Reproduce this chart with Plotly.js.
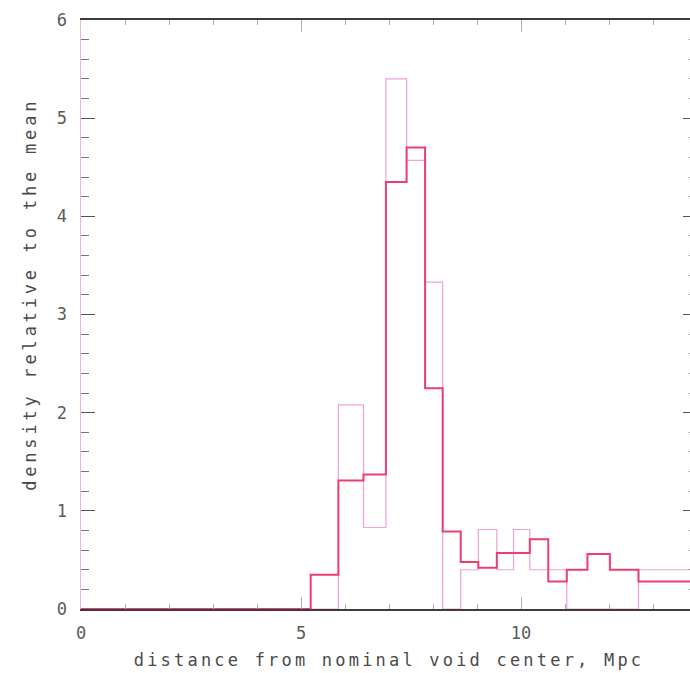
<!DOCTYPE html>
<html>
<head>
<meta charset="utf-8">
<script src="https://cdn.plot.ly/plotly-3.0.1.min.js"></script>
<style>
  html, body { margin: 0; padding: 0; overflow: hidden; background: #fff; }
  #chart { width: 707px; height: 673px; }
  .xtitle { letter-spacing: 3.2px; }
  .annotation-text { letter-spacing: 3.8px; }
</style>
</head>
<body>
<div id="chart"></div>
<script>
// Bin left edges (Mpc) of the step histograms
const binEdges = [0, 5.22, 5.85, 6.42, 6.93, 7.40, 7.82, 8.22, 8.63, 9.03, 9.45, 9.83, 10.20, 10.62, 11.04, 11.51, 12.02, 12.67];
const axisEnd = 14;
// Thick red histogram: density relative to the mean in each bin
const redValues = [0, 0.35, 1.31, 1.37, 4.35, 4.70, 2.25, 0.79, 0.48, 0.42, 0.57, 0.57, 0.71, 0.28, 0.40, 0.56, 0.40, 0.28];
// Thin pink histogram
const pinkValues = [0, 0, 2.08, 0.83, 5.40, 4.57, 3.33, 0, 0.40, 0.81, 0.40, 0.81, 0.40, 0.40, 0, 0, 0, 0.40];
const xTickVals = [0, 5, 10];
const yTickVals = [0, 1, 2, 3, 4, 5, 6];
const xTitle = 'distance from nominal void center, Mpc';
const yTitle = 'density relative to the mean';

function stepX(edges) { return edges.concat([axisEnd]); }
function stepY(vals) { return vals.concat([vals[vals.length - 1]]); }

const font = 'DejaVu Sans Mono, monospace';

const traces = [
  {
    x: stepX(binEdges), y: stepY(pinkValues),
    type: 'scatter', mode: 'lines',
    line: { shape: 'hv', color: '#f0a0d6', width: 1.2 },
    hoverinfo: 'skip', showlegend: false
  },
  {
    x: stepX(binEdges), y: stepY(redValues),
    type: 'scatter', mode: 'lines',
    line: { shape: 'hv', color: '#ec3f6e', width: 2 },
    hoverinfo: 'skip', showlegend: false
  }
];

const layout = {
  width: 707, height: 673,
  margin: { l: 81, r: 10, t: 20, b: 64 },
  paper_bgcolor: '#ffffff', plot_bgcolor: '#ffffff',
  showlegend: false,
  xaxis: {
    range: [0, axisEnd], autorange: false,
    tickmode: 'array', tickvals: xTickVals, ticktext: xTickVals.map(String),
    ticks: 'inside', ticklen: 12, tickwidth: 1, tickcolor: '#c8a0c4',
    minor: { dtick: 1, tick0: 0, ticks: 'inside', ticklen: 5, tickcolor: '#c8a0c4', tickwidth: 1, showgrid: false },
    showline: true, linecolor: '#3c3c3c', linewidth: 2, mirror: 'ticks',
    showgrid: false, zeroline: false,
    tickfont: { family: font, size: 17, color: '#5a5a5a' },
    ticklabelstandoff: 8,
    title: { text: xTitle, font: { family: font, size: 17, color: '#4a4a4a' }, standoff: 12 }
  },
  yaxis: {
    range: [0, 6], autorange: false,
    tickmode: 'array', tickvals: yTickVals, ticktext: yTickVals.map(String),
    ticks: 'inside', ticklen: 14, tickwidth: 1, tickcolor: '#555555',
    minor: { dtick: 0.2, tick0: 0, ticks: 'inside', ticklen: 8, tickcolor: '#777777', tickwidth: 1, showgrid: false },
    showline: true, linecolor: '#e8b6e2', linewidth: 1.5, mirror: 'ticks',
    showgrid: false, zeroline: false,
    tickfont: { family: font, size: 17, color: '#5a5a5a' },
    ticklabelstandoff: 9
  },
  annotations: [{
    text: yTitle, textangle: -90,
    xref: 'paper', yref: 'paper',
    x: -0.083, y: 0.535, xanchor: 'center', yanchor: 'middle',
    showarrow: false,
    font: { family: font, size: 17, color: '#4a4a4a' }
  }]
};

Plotly.newPlot('chart', traces, layout, { staticPlot: true, displayModeBar: false });
</script>
</body>
</html>
